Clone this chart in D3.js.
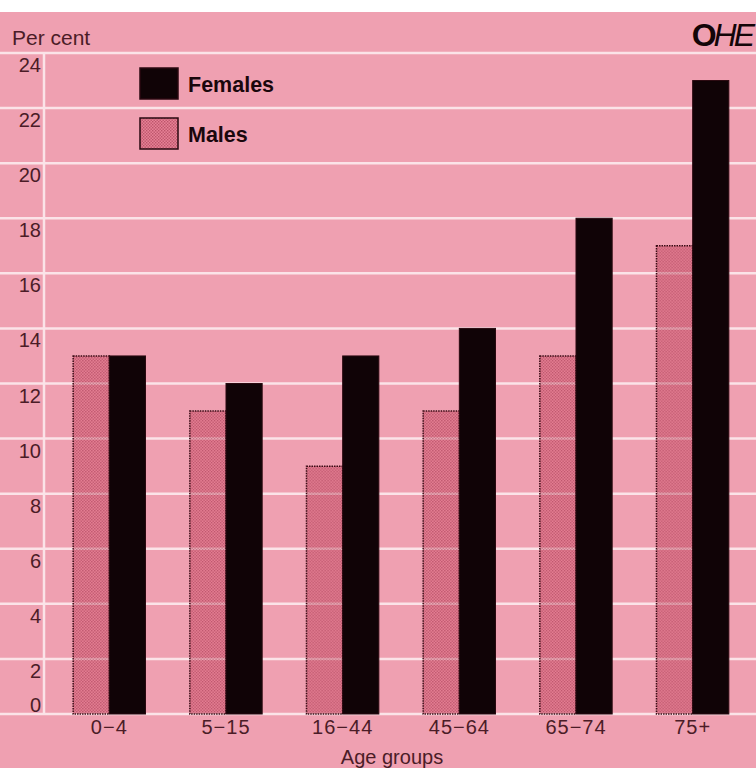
<!DOCTYPE html>
<html>
<head>
<meta charset="utf-8">
<script src="https://cdn.jsdelivr.net/npm/d3@7"></script>
<style>
  html, body { margin: 0; padding: 0; background: #ffffff; }
  svg { display: block; }
  text { font-family: "Liberation Sans", Arial, Helvetica, sans-serif; }
</style>
</head>
<body>
<svg id="chart" width="756" height="768"></svg>
<script>
// Age groups and percentage values per sex
const ageGroups = ["0−4", "5−15", "16−44", "45−64", "65−74", "75+"];
const males = [13, 11, 9, 11, 13, 17];
const females = [13, 12, 13, 14, 18, 23];
const seriesNames = ["Males", "Females"];
const yTicks = [0, 2, 4, 6, 8, 10, 12, 14, 16, 18, 20, 22, 24];

const W = 756, H = 768;
const svg = d3.select("#chart");

const bgPink = "#efa0b1";
const gridCol = "#fbe3e8";
const inkCol = "#4b1c27";
const barInk = "#100306";

// Dotted fill used for the male bars
const defs = svg.append("defs");
const pat = defs.append("pattern")
  .attr("id", "maleDots")
  .attr("patternUnits", "userSpaceOnUse")
  .attr("width", 3).attr("height", 3);
pat.append("rect").attr("width", 3).attr("height", 3)
  .attr("fill", "#d63a58").attr("fill-opacity", 0.3);
pat.append("rect").attr("x", 0).attr("y", 0).attr("width", 1.4).attr("height", 1.4)
  .attr("fill", "#801830").attr("fill-opacity", 0.42);
pat.append("rect").attr("x", 1.5).attr("y", 1.5).attr("width", 1.4).attr("height", 1.4)
  .attr("fill", "#801830").attr("fill-opacity", 0.42);

// Page background: white strip on top, pink panel below
svg.append("rect").attr("x", 0).attr("y", 0).attr("width", W).attr("height", H).attr("fill", "#ffffff");
svg.append("rect").attr("x", 0).attr("y", 12).attr("width", W).attr("height", H - 12).attr("fill", bgPink);

// Scales
const y = d3.scaleLinear().domain([0, 24]).range([714, 53]);
const x0 = d3.scaleBand().domain(ageGroups).range([51, 751])
  .paddingInner(0.38).paddingOuter(0.19);
const x1 = d3.scaleBand().domain(seriesNames).range([0, x0.bandwidth()]);

// Horizontal grid lines across the whole panel
svg.append("g").selectAll("line")
  .data(yTicks)
  .join("line")
  .attr("x1", 0).attr("x2", W)
  .attr("y1", d => y(d)).attr("y2", d => y(d))
  .attr("stroke", gridCol).attr("stroke-width", 2.5);

// Vertical separator between labels and plot
svg.append("line")
  .attr("x1", 44).attr("x2", 44)
  .attr("y1", y(24)).attr("y2", y(0))
  .attr("stroke", gridCol).attr("stroke-width", 2.5);

// Y tick labels sit just under their grid line (0 sits above the base line)
svg.append("g").selectAll("text")
  .data(yTicks)
  .join("text")
  .attr("x", 41)
  .attr("y", d => d === 0 ? y(d) - 9 : y(d) + 12)
  .attr("dy", "0.35em")
  .attr("text-anchor", "end")
  .attr("font-size", 20)
  .attr("fill", inkCol)
  .text(d => d);

// Bars
const rows = ageGroups.map((g, i) => ({ group: g, Males: males[i], Females: females[i] }));
const groups = svg.append("g").selectAll("g")
  .data(rows)
  .join("g")
  .attr("transform", d => `translate(${x0(d.group)},0)`);

groups.append("rect")
  .attr("x", x1("Males"))
  .attr("width", x1.bandwidth())
  .attr("y", d => y(d.Males))
  .attr("height", d => y(0) - y(d.Males))
  .attr("fill", "url(#maleDots)")
  .attr("stroke", "#3a0d16").attr("stroke-width", 1.5)
  .attr("stroke-dasharray", "1.5,1");

groups.append("rect")
  .attr("x", x1("Females"))
  .attr("width", x1.bandwidth())
  .attr("y", d => y(d.Females))
  .attr("height", d => y(0) - y(d.Females))
  .attr("fill", barInk)
  .attr("stroke", "#2a0910").attr("stroke-width", 1);

// Category axis
const xAxis = svg.append("g")
  .attr("transform", `translate(0,${y(0)})`)
  .call(d3.axisBottom(x0).tickSize(0).tickPadding(0));
xAxis.select(".domain").remove();
xAxis.selectAll("text")
  .attr("y", 15)
  .attr("dy", "0")
  .attr("dominant-baseline", "middle")
  .attr("font-family", "\"Liberation Sans\", Arial, sans-serif")
  .attr("font-size", 20)
  .attr("letter-spacing", "1")
  .attr("fill", inkCol);

svg.append("text")
  .attr("x", 392).attr("y", 757)
  .attr("dy", "0.35em")
  .attr("text-anchor", "middle")
  .attr("font-size", 20)
  .attr("fill", inkCol)
  .text("Age groups");

// Unit label
svg.append("text")
  .attr("x", 12).attr("y", 38)
  .attr("dy", "0.35em")
  .attr("font-size", 21)
  .attr("fill", inkCol)
  .text("Per cent");

// Publisher mark
const logo = svg.append("text")
  .attr("x", 752).attr("y", 35)
  .attr("dy", "0.35em")
  .attr("text-anchor", "end")
  .attr("font-size", 32)
  .attr("fill", "#140508")
  .attr("letter-spacing", "-3");
logo.append("tspan").attr("font-weight", "bold").text("O");
logo.append("tspan").attr("font-style", "italic").text("HE");

// Legend
const legendItems = [
  { name: "Females", fill: barInk, y: 68 },
  { name: "Males", fill: "url(#maleDots)", y: 118 }
];
const lg = svg.append("g").selectAll("g")
  .data(legendItems)
  .join("g")
  .attr("transform", d => `translate(140,${d.y})`);
lg.append("rect")
  .attr("width", 38).attr("height", 31)
  .attr("fill", d => d.fill)
  .attr("stroke", "#2a0910").attr("stroke-width", 1.5);
lg.append("text")
  .attr("x", 48).attr("y", 16)
  .attr("dy", "0.35em")
  .attr("font-size", 21.5)
  .attr("font-weight", "bold")
  .attr("fill", "#1a070c")
  .text(d => d.name);
</script>
</body>
</html>
